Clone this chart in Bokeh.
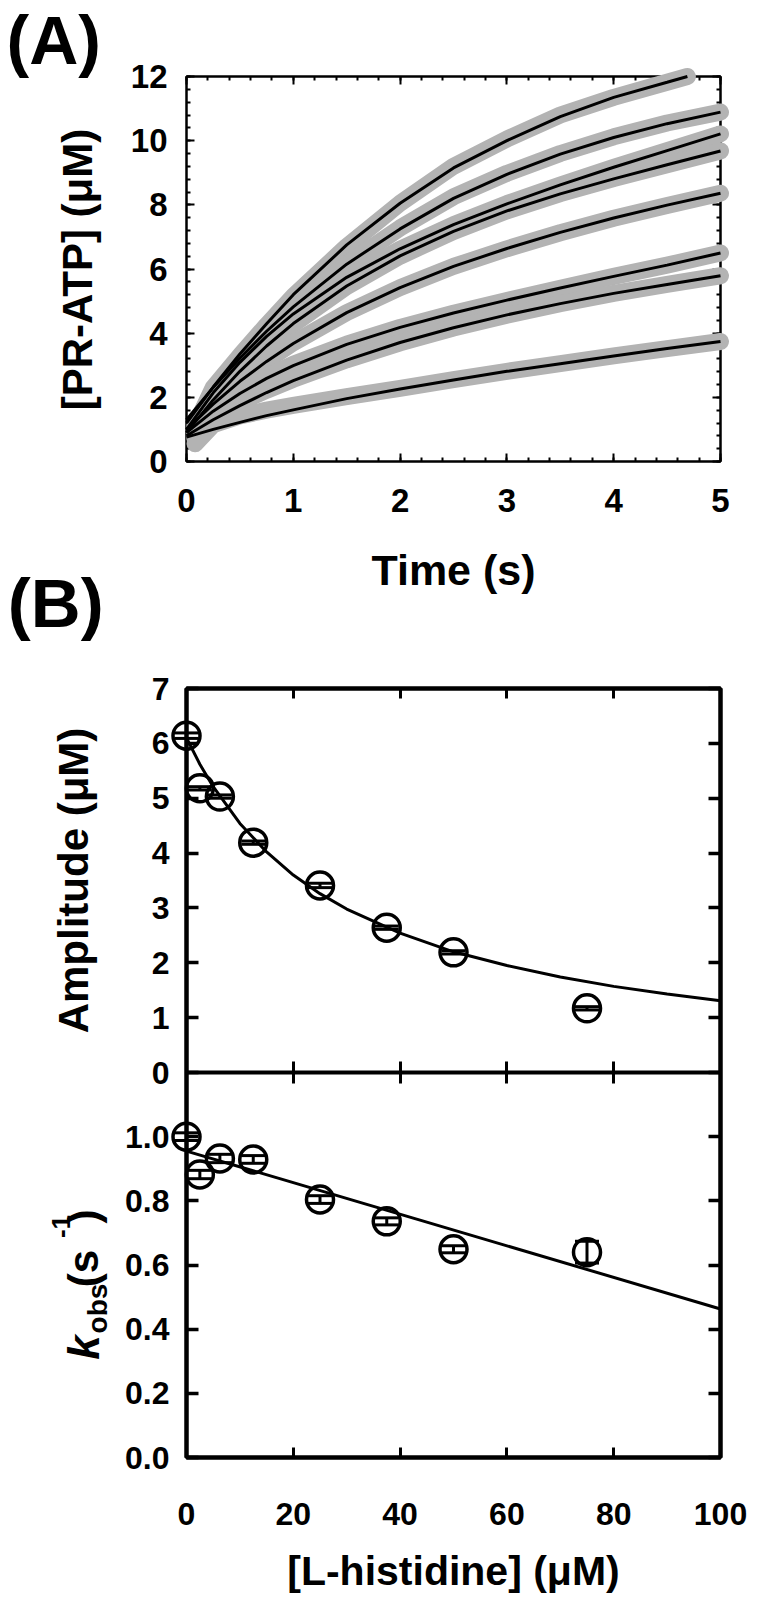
from bokeh.plotting import figure
from bokeh.models import (LinearAxis, SingleIntervalTicker, FixedTicker, Range1d,
                          ColumnDataSource, CustomJSTickFormatter)
from bokeh.core.properties import value
from bokeh.layouts import column
from bokeh.embed import file_html
from bokeh.resources import INLINE
import numpy as np

FONT = "Liberation Sans"

# ---------------- Panel A data ----------------
t_fit = [0, 0.25, 0.5, 0.75, 1.0, 1.5, 2.0, 2.5, 3.0, 3.5, 4.0, 4.5, 5.0]
t_fit_top = [0, 0.25, 0.5, 0.75, 1.0, 1.5, 2.0, 2.5, 3.0, 3.5, 4.0, 4.5, 4.69]
fit_1 = [1.20, 2.32, 3.35, 4.29, 5.20, 6.75, 8.05, 9.15, 10.00, 10.75, 11.35, 11.82, 12.00]
fit_2 = [1.30, 2.31, 3.22, 4.06, 4.82, 6.15, 7.25, 8.20, 8.95, 9.58, 10.10, 10.53, 10.89]
fit_3 = [1.00, 2.14, 3.09, 3.90, 4.60, 5.74, 6.63, 7.38, 8.03, 8.62, 9.17, 9.69, 10.21]
fit_4 = [0.90, 1.92, 2.81, 3.60, 4.30, 5.47, 6.41, 7.17, 7.81, 8.34, 8.81, 9.25, 9.68]
fit_5 = [1.00, 1.79, 2.50, 3.12, 3.68, 4.64, 5.42, 6.08, 6.64, 7.14, 7.59, 7.99, 8.36]
fit_6 = [0.90, 1.57, 2.12, 2.59, 2.99, 3.65, 4.18, 4.63, 5.03, 5.41, 5.77, 6.12, 6.50]
fit_7 = [0.80, 1.30, 1.74, 2.15, 2.52, 3.16, 3.71, 4.17, 4.57, 4.92, 5.24, 5.52, 5.79]
fit_8 = [0.76, 1.00, 1.22, 1.43, 1.61, 1.96, 2.26, 2.54, 2.81, 3.05, 3.29, 3.52, 3.74]

t_data = [0.08, 0.25, 0.5, 0.75, 1.0, 1.5, 2.0, 2.5, 3.0, 3.5, 4.0, 4.5, 5.0]
t_data_top = [0.08, 0.25, 0.5, 0.75, 1.0, 1.5, 2.0, 2.5, 3.0, 3.5, 4.0, 4.5, 4.69]
data_1 = [1.10, 2.30, 3.30, 4.25, 5.15, 6.70, 8.05, 9.20, 10.05, 10.80, 11.35, 11.82, 12.00]
data_2 = [1.10, 2.25, 3.20, 4.05, 4.82, 6.15, 7.28, 8.25, 8.98, 9.60, 10.12, 10.55, 10.89]
data_3 = [0.90, 2.05, 3.05, 3.88, 4.58, 5.72, 6.62, 7.38, 8.04, 8.62, 9.17, 9.69, 10.21]
data_4 = [0.80, 1.85, 2.78, 3.58, 4.28, 5.45, 6.40, 7.17, 7.81, 8.35, 8.82, 9.25, 9.68]
data_5 = [0.85, 1.80, 2.52, 3.14, 3.70, 4.64, 5.42, 6.08, 6.63, 7.13, 7.58, 7.98, 8.36]
data_6 = [0.75, 1.62, 2.20, 2.65, 3.03, 3.66, 4.18, 4.62, 5.02, 5.40, 5.77, 6.12, 6.50]
data_7 = [0.70, 1.40, 1.85, 2.22, 2.56, 3.17, 3.70, 4.16, 4.56, 4.92, 5.24, 5.52, 5.79]
data_8 = [0.55, 1.15, 1.42, 1.60, 1.75, 2.02, 2.28, 2.55, 2.81, 3.05, 3.29, 3.52, 3.74]

# ---------------- Panel B data ----------------
histidine = [0, 2.5, 6.25, 12.5, 25, 37.5, 50, 75]
amplitude = [6.14, 5.18, 5.03, 4.19, 3.41, 2.64, 2.19, 1.17]
amplitude_err = [0.05, 0.03, 0.03, 0.03, 0.04, 0.03, 0.03, 0.03]
kobs = [1.00, 0.882, 0.932, 0.929, 0.804, 0.736, 0.649, 0.640]
kobs_err = [0.012, 0.013, 0.013, 0.012, 0.012, 0.011, 0.011, 0.034]

amp_fit_x = [0, 2.5, 5, 10, 15, 20, 25, 30, 40, 50, 60, 70, 80, 90, 100]
amp_fit_y = [6.10, 5.62, 5.21, 4.54, 4.02, 3.60, 3.26, 2.98, 2.54, 2.20, 1.95, 1.74, 1.57, 1.43, 1.31]
kobs_fit_x = [0, 100]
kobs_fit_y = [0.955, 0.463]

kobs_ticks = [0.0, 0.2, 0.4, 0.6, 0.8, 1.0]
amp_ticks = [0, 1, 2, 3, 4, 5, 6, 7]
kobs_max = 1.2
amp_max = 7.0

GRAY = "#b3b3b3"
W = 761
MID = 0.35   # distance from text middle to baseline, in em


def no_label_axis(ticker, tick_in, tick_w, line_w, minor_in=0, tick_out=0, **kw):
    return LinearAxis(ticker=ticker, major_tick_in=tick_in, major_tick_out=tick_out,
                      minor_tick_in=minor_in, minor_tick_out=0,
                      major_tick_line_width=tick_w, minor_tick_line_width=tick_w,
                      axis_line_width=line_w,
                      major_label_text_font_size="0px", major_label_standoff=0,
                      major_label_text_color=None, **kw)


def base_fig(h, xr, yr, bl, br, bt, bb, outline_w, **kw):
    p = figure(width=W, height=h, x_range=xr, y_range=yr,
               output_backend="svg", toolbar_location=None,
               x_axis_location=None, y_axis_location=None,
               min_border_left=bl, min_border_right=br,
               min_border_top=bt, min_border_bottom=bb, **kw)
    p.xgrid.visible = False
    p.ygrid.visible = False
    p.outline_line_color = "black"
    p.outline_line_width = outline_w
    p.background_fill_color = "white"
    p.border_fill_color = "white"
    return p


def px_to_data(rng, frame_px, offset_px):
    # pixel offset from the frame's left / bottom edge -> data coordinate
    return rng.start + offset_px * (rng.end - rng.start) / frame_px


def free_text(p, xr, yr, fw, fh, dx, dy, txt, size_px, style="bold", angle=0.0):
    # (dx, dy): centre of the text on its baseline, in pixels from the frame's bottom-left corner
    shift = MID * size_px
    ax = dx - shift * np.sin(angle)
    ay = dy + shift * np.cos(angle)
    p.text(x=[px_to_data(xr, fw, ax)], y=[px_to_data(yr, fh, ay)], text=[txt],
           text_font=value(FONT), text_font_size=value(f"{size_px}px"),
           text_font_style=value(style), text_color="black", text_align=value("center"),
           text_baseline=value("middle"), angle=angle, level="overlay")


# ======================= Panel A =======================
xrA, yrA = Range1d(0, 5), Range1d(0, 12)
FWA, FHA = 535, 385
HA = 655
pA = base_fig(HA, xrA, yrA, 186, W - 186 - FWA, 76, HA - 76 - FHA, 2)

xA_bottom = LinearAxis(ticker=SingleIntervalTicker(interval=1, num_minor_ticks=5),
                       major_tick_in=8, major_tick_out=0, minor_tick_in=4, minor_tick_out=0,
                       major_tick_line_width=2, minor_tick_line_width=2, axis_line_width=2,
                       major_label_text_font=FONT, major_label_text_font_size="33px",
                       major_label_text_font_style="bold", major_label_text_color="black",
                       major_label_standoff=27,
                       axis_label="Time (s)", axis_label_text_font=FONT,
                       axis_label_text_font_size="43px", axis_label_text_font_style="bold",
                       axis_label_text_color="black", axis_label_standoff=31)
pA.add_layout(xA_bottom, "below")
yA_left = LinearAxis(ticker=SingleIntervalTicker(interval=2, num_minor_ticks=5),
                     major_tick_in=8, major_tick_out=0, minor_tick_in=4, minor_tick_out=0,
                     major_tick_line_width=2, minor_tick_line_width=2, axis_line_width=2,
                     major_label_text_font=FONT, major_label_text_font_size="33px",
                     major_label_text_font_style="bold", major_label_text_color="black",
                     major_label_standoff=19)
pA.add_layout(yA_left, "left")
pA.add_layout(no_label_axis(SingleIntervalTicker(interval=1, num_minor_ticks=5), 8, 2, 2, 4), "above")
pA.add_layout(no_label_axis(SingleIntervalTicker(interval=2, num_minor_ticks=5), 8, 2, 2, 4), "right")

data_traces = [(t_data_top, data_1), (t_data, data_2), (t_data, data_3), (t_data, data_4),
               (t_data, data_5), (t_data, data_6), (t_data, data_7), (t_data, data_8)]
fit_traces = [(t_fit_top, fit_1), (t_fit, fit_2), (t_fit, fit_3), (t_fit, fit_4),
              (t_fit, fit_5), (t_fit, fit_6), (t_fit, fit_7), (t_fit, fit_8)]
for tx, ty in data_traces:
    pA.line(tx, ty, line_color=GRAY, line_width=17, line_cap="round", line_join="round",
            level="overlay")
for tx, ty in fit_traces:
    pA.line(tx, ty, line_color="black", line_width=3, level="overlay")

ANG = np.pi / 2
free_text(pA, xrA, yrA, FWA, FHA, -95, 192, "[PR-ATP] (\u03bcM)", 42, angle=ANG)
free_text(pA, xrA, yrA, FWA, FHA, -133, 398, "(A)", 68)
free_text(pA, xrA, yrA, FWA, FHA, -131, -166, "(B)", 69)

# ======================= Panel B (two stacked panels sharing one frame) ==========
FWB = 534
FHB_low, FHB_up = 385, 384
FHB = FHB_low + FHB_up
HB = 944
k_top = kobs_max * FHB / FHB_low                 # kobs coordinate at the top of the frame
amp_bottom = amp_max - amp_max * FHB / FHB_up     # amplitude coordinate at the frame bottom
xrB = Range1d(0, 100)
yrB = Range1d(0, k_top)
pB = base_fig(HB, xrB, yrB, 186, W - 186 - FWB, 33, HB - 33 - FHB, 4,
              extra_y_ranges={"amp": Range1d(amp_bottom, amp_max)})

# left / right axes: kobs ticks in the lower half, amplitude ticks in the upper half
amp_to_k = (k_top - kobs_max) / amp_max
left_ticks = list(kobs_ticks) + [kobs_max + a * amp_to_k for a in amp_ticks]
fmt = CustomJSTickFormatter(args=dict(split=kobs_max, scale=1.0 / amp_to_k), code="""
    if (tick < split - 1e-6) { return tick.toFixed(1); }
    return Math.round((tick - split) * scale).toString();
""")
yB_left = LinearAxis(ticker=FixedTicker(ticks=left_ticks), formatter=fmt,
                     major_tick_in=12, major_tick_out=0, minor_tick_in=0, minor_tick_out=0,
                     major_tick_line_width=3.5, axis_line_width=4,
                     major_label_text_font=FONT, major_label_text_font_size="32px",
                     major_label_text_font_style="bold", major_label_text_color="black",
                     major_label_standoff=17)
pB.add_layout(yB_left, "left")
pB.add_layout(no_label_axis(FixedTicker(ticks=left_ticks), 12, 3.5, 4), "right")
pB.add_layout(no_label_axis(SingleIntervalTicker(interval=20, num_minor_ticks=0), 10, 3, 4), "above")
# shared middle axis line between the two panels, ticks crossing it
pB.add_layout(no_label_axis(SingleIntervalTicker(interval=20, num_minor_ticks=0), 11, 3, 4,
                            tick_out=11, fixed_location=kobs_max), "above")
xB_bottom = LinearAxis(ticker=SingleIntervalTicker(interval=20, num_minor_ticks=0),
                       major_tick_in=10, major_tick_out=0, minor_tick_in=0, minor_tick_out=0,
                       major_tick_line_width=3, axis_line_width=4,
                       major_label_text_font=FONT, major_label_text_font_size="32px",
                       major_label_text_font_style="bold", major_label_text_color="black",
                       major_label_standoff=45)
pB.add_layout(xB_bottom, "below")

# ---- amplitude (upper panel) ----
pB.line(amp_fit_x, amp_fit_y, line_color="black", line_width=3, y_range_name="amp")
amp_arr = np.array(amplitude)
amp_err_arr = np.array(amplitude_err)
src_amp = ColumnDataSource(dict(x=histidine, y=amplitude,
                                upper=amp_arr + amp_err_arr, lower=amp_arr - amp_err_arr))
pB.segment(x0="x", y0="lower", x1="x", y1="upper", source=src_amp, line_color="black",
           line_width=3, y_range_name="amp", level="overlay")
for col in ("upper", "lower"):
    pB.scatter("x", col, source=src_amp, marker="dash", size=24, line_color="black",
               line_width=3, y_range_name="amp", level="overlay")
pB.scatter("x", "y", source=src_amp, marker="circle", size=27, fill_color=None,
           line_color="black", line_width=3.5, y_range_name="amp", level="overlay")

# ---- kobs (lower panel) ----
pB.line(kobs_fit_x, kobs_fit_y, line_color="black", line_width=3)
k_arr = np.array(kobs)
k_err_arr = np.array(kobs_err)
src_k = ColumnDataSource(dict(x=histidine, y=kobs, upper=k_arr + k_err_arr, lower=k_arr - k_err_arr))
pB.segment(x0="x", y0="lower", x1="x", y1="upper", source=src_k, line_color="black",
           line_width=3, level="overlay")
for col in ("upper", "lower"):
    pB.scatter("x", col, source=src_k, marker="dash", size=24, line_color="black",
               line_width=3, level="overlay")
pB.scatter("x", "y", source=src_k, marker="circle", size=27, fill_color=None,
           line_color="black", line_width=3.5, level="overlay")

# ---- titles (baseline-centre positions in pixels from the frame's bottom-left corner) ----
free_text(pB, xrB, yrB, FWB, FHB, -98, FHB_low + FHB_up / 2, "Amplitude (\u03bcM)", 42, angle=ANG)
free_text(pB, xrB, yrB, FWB, FHB, 267, -128, "[L-histidine] (\u03bcM)", 41)
kobs_title_parts = [
    ("k", -88, 110, 44, "bold italic"),
    ("obs", -79, 149, 28, "bold"),
    ("(s", -88, 189, 42, "bold"),
    ("-1", -116, 231, 26, "bold"),
    (")", -88, 241, 42, "bold"),
]
for txt, ox, oy, fs, st in kobs_title_parts:
    free_text(pB, xrB, yrB, FWB, FHB, ox, oy, txt, fs, style=st, angle=ANG)

layout = column(pA, pB)
open("out.html", "w").write(file_html(layout, INLINE))
